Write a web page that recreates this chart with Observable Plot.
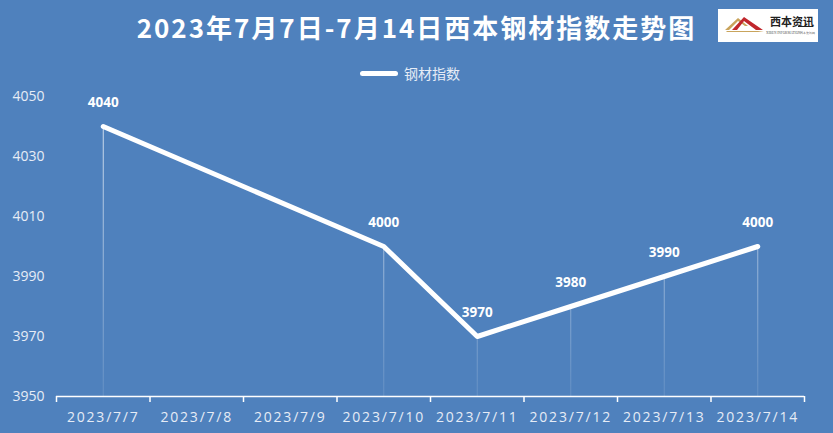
<!DOCTYPE html>
<html>
<head>
<meta charset="utf-8">
<script src="https://cdn.jsdelivr.net/npm/d3@7"></script>
<script src="https://cdn.jsdelivr.net/npm/@observablehq/plot@0.6"></script>
<style>
  html, body { margin: 0; padding: 0; background: #4f81bd; }
  #wrap { position: relative; width: 833px; height: 433px; background: #4f81bd; overflow: hidden; padding-top: 80px; box-sizing: border-box; }
  #title { position: absolute; left: 0; top: 9px; width: 833px; text-align: center; color: #ffffff;
           font-family: "Noto Sans CJK SC", sans-serif; font-weight: bold; font-size: 26px; letter-spacing: 2px; line-height: 36px; }
  #legend { position: absolute; left: 360px; top: 62px; height: 22px; display: flex; align-items: center;
            font-family: "Noto Sans CJK SC", sans-serif; font-size: 14px; color: #e6ecf6; }
  #legend .sw { width: 38px; height: 5px; border-radius: 3px; background: #ffffff; margin-right: 6px; }
  #logo { position: absolute; left: 718px; top: 9px; }
  svg g[aria-label="x-axis tick label"] text { letter-spacing: 1.8px; }
</style>
</head>
<body>
<div id="wrap">
  <div id="title">2023年7月7日-7月14日西本钢材指数走势图</div>
  <div id="legend"><div class="sw"></div><span>钢材指数</span></div>
  <svg id="logo" width="100" height="33" viewBox="0 0 100 33">
    <rect x="0" y="0" width="100" height="33" fill="#ffffff"/>
    <polygon points="7,21 20,9 30,17 27,17 20,12 11,21" fill="#c9a45c"/>
    <polygon points="14,21 26,8 45,21 38,21 26,12 19,21" fill="#c0272d"/>
    <polygon points="8,22 46,22 40,23 9,23" fill="#c9a45c"/>
    <text x="52" y="17" font-family="Noto Sans CJK SC" font-weight="bold" font-size="11" fill="#222">西本资讯</text>
    <line x1="80" y1="17.5" x2="95" y2="17.5" stroke="#222" stroke-width="1"/>
    <text x="48" y="25" font-family="Liberation Serif" font-size="3.4" fill="#555">XIBEN INFORMATION</text>
    <text x="82" y="25" font-family="Liberation Serif" font-size="3" fill="#555">西本资讯网</text>
  </svg>
  <div id="chart"></div>
</div>
<script>
const dates = ["2023/7/7", "2023/7/8", "2023/7/9", "2023/7/10", "2023/7/11", "2023/7/12", "2023/7/13", "2023/7/14"];
const values = [4040, null, null, 4000, 3970, 3980, 3990, 4000];
const yTicks = [3950, 3970, 3990, 4010, 4030, 4050];
const yDomain = [3950, 4050];
const seriesName = "钢材指数";

const data = dates.map((date, i) => ({i, date, value: values[i]})).filter(d => d.value != null);
const centers = d3.range(dates.length);
const bounds = d3.range(dates.length + 1).map(k => k - 0.5);

const chart = Plot.plot({
  width: 833,
  height: 353,
  marginTop: 16,
  marginBottom: 37,
  marginLeft: 56,
  marginRight: 29,
  style: {background: "transparent", color: "#e6ecf6", fontFamily: "'Open Sans', sans-serif", fontSize: "14px"},
  x: {domain: [bounds[0], bounds[bounds.length - 1]]},
  y: {domain: yDomain},
  marks: [
    Plot.axisY({ticks: yTicks, tickFormat: d => String(d), tickSize: 0, tickPadding: 12, fontSize: 14, label: null, fill: "#e6ecf6"}),
    Plot.axisX({ticks: centers, tickFormat: i => dates[i], tickSize: 0, tickPadding: 16, fontSize: 14, label: null, fill: "#e6ecf6"}),
    Plot.axisX({ticks: bounds, tickFormat: () => "", tickSize: 6, label: null, stroke: "#ffffff", strokeWidth: 1.5}),
    Plot.ruleY([yDomain[0]], {stroke: "#ffffff", strokeWidth: 1.5}),
    Plot.ruleX(data, {x: "i", y1: yDomain[0], y2: "value", stroke: "url(#dropfade)", strokeWidth: 1}),
    Plot.line(data, {x: "i", y: "value", stroke: "#ffffff", strokeWidth: 5, strokeLinejoin: "round", strokeLinecap: "round"}),
    Plot.text(data, {x: "i", y: "value", text: d => String(d.value), dy: -24, fill: "#ffffff", fontWeight: "bold", fontSize: 13.5})
  ]
});

d3.select(chart).insert("defs", ":first-child").html(
  '<linearGradient id="dropfade" gradientUnits="userSpaceOnUse" x1="0" y1="16" x2="0" y2="316">' +
  '<stop offset="0" stop-color="#ffffff" stop-opacity="0.8"/>' +
  '<stop offset="1" stop-color="#ffffff" stop-opacity="0.12"/></linearGradient>'
);
document.getElementById("chart").appendChild(chart);
</script>
</body>
</html>
